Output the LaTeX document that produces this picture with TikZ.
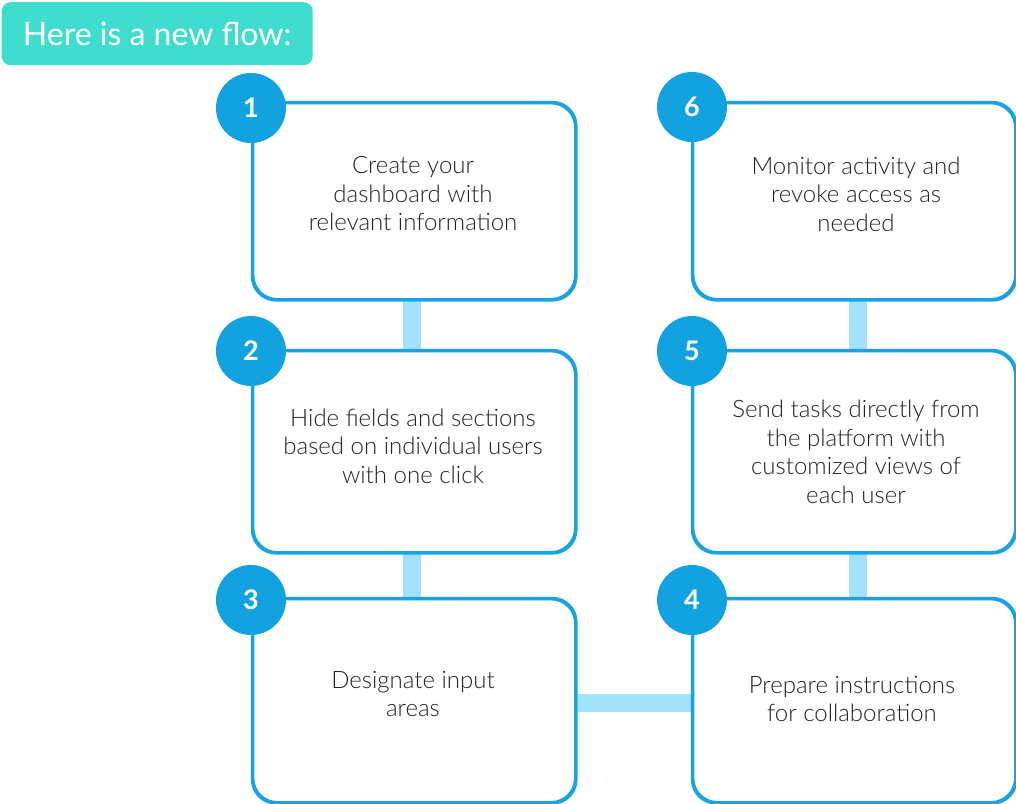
\documentclass[tikz,border=0pt]{standalone}
\usepackage{fontspec}
\setmainfont{Lato Light}[BoldFont=Lato Bold]
\newfontfamily\titlefont{Lato}
\definecolor{teal}{HTML}{40DDCF}
\definecolor{bblue}{HTML}{1AA3E2}
\definecolor{cblue}{HTML}{12A2E0}
\definecolor{lblue}{HTML}{A3E2FD}
\definecolor{txt}{HTML}{222222}
\begin{document}
\begin{tikzpicture}[x=1pt,y=-1pt,
  stepbox/.style={draw=bblue,line width=2.4pt,fill=white,rounded corners=24pt,minimum width=322pt,anchor=north west,inner sep=0pt},
  shadowbox/.style={fill=black,opacity=0.12,rounded corners=24pt,minimum width=322pt,anchor=north west,inner sep=0pt,draw=none},
  numc/.style={circle,fill=cblue,minimum size=70pt,inner sep=0pt,text=white,font=\fontsize{27}{27}\selectfont\bfseries},
  btext/.style={text=txt,align=center,font=\fontsize{24}{28.5}\selectfont},
  conn/.style={draw=lblue,line width=18.5pt}
]
\useasboundingbox (0,0) rectangle (1016,803);
% title
\node[fill=teal,rounded corners=9pt,minimum width=311pt,minimum height=63pt,anchor=north west,inner sep=0pt,text=white,font=\titlefont\fontsize{32}{32}\selectfont] (title) at (1.5,2) {Here is a new flow:};
% shadows
\foreach \x/\y/\h in {255/105/196,255/353/201,255/601/203,695/105/196,695/353/201,695/601/203}{
  \node[shadowbox,minimum height=\h pt] at (\x,\y) {};
}
% boxes
\node[stepbox,minimum height=196pt] (b1) at (252,102) {};
\node[stepbox,minimum height=201pt] (b2) at (252,350) {};
\node[stepbox,minimum height=203pt] (b3) at (252,598) {};
\node[stepbox,minimum height=196pt] (b6) at (692,102) {};
\node[stepbox,minimum height=201pt] (b5) at (692,350) {};
\node[stepbox,minimum height=203pt] (b4) at (692,598) {};
% connectors
\draw[conn] ([xshift=-2pt]b1.south) -- ([xshift=-2pt]b2.north);
\draw[conn] ([xshift=-2pt]b2.south) -- ([xshift=-2pt]b3.north);
\draw[conn] ([xshift=4pt]b6.south) -- ([xshift=4pt]b5.north);
\draw[conn] ([xshift=4pt]b5.south) -- ([xshift=4pt]b4.north);
\draw[conn] ([yshift=-105pt]b3.north east) ++(1.2,0) coordinate (h1) -- ([yshift=-105pt]b4.north west) ++(-1.2,0);
% redraw borders over connectors
\foreach \n in {b1,b2,b3,b4,b5,b6}{
  \draw[bblue,line width=2.4pt,rounded corners=24pt] (\n.north west) rectangle (\n.south east);
}
% circles
\node[numc] (c1) at (251,108) {1};
\node[numc] (c2) at (251,351) {2};
\node[numc] (c3) at (251,600) {3};
\node[numc] (c6) at (692,107) {6};
\node[numc] (c5) at (692,351) {5};
\node[numc] (c4) at (692,600) {4};
% texts
\node[btext] (t1) at (413,194) {Create your\\ dashboard with\\relevant information};
\node[btext] (t2) at (413,446) {Hide fields and sections\\based on individual users\\with one click};
\node[btext] (t3) at (413,694) {Designate input\\areas};
\node[btext] (t6) at (856,194) {Monitor activity and\\revoke access as\\needed};
\node[btext] (t5) at (856,452) {Send tasks directly from\\the platform with\\customized views of\\each user};
\node[btext] (t4) at (852,699) {Prepare instructions\\for collaboration};
\end{tikzpicture}
\end{document}
